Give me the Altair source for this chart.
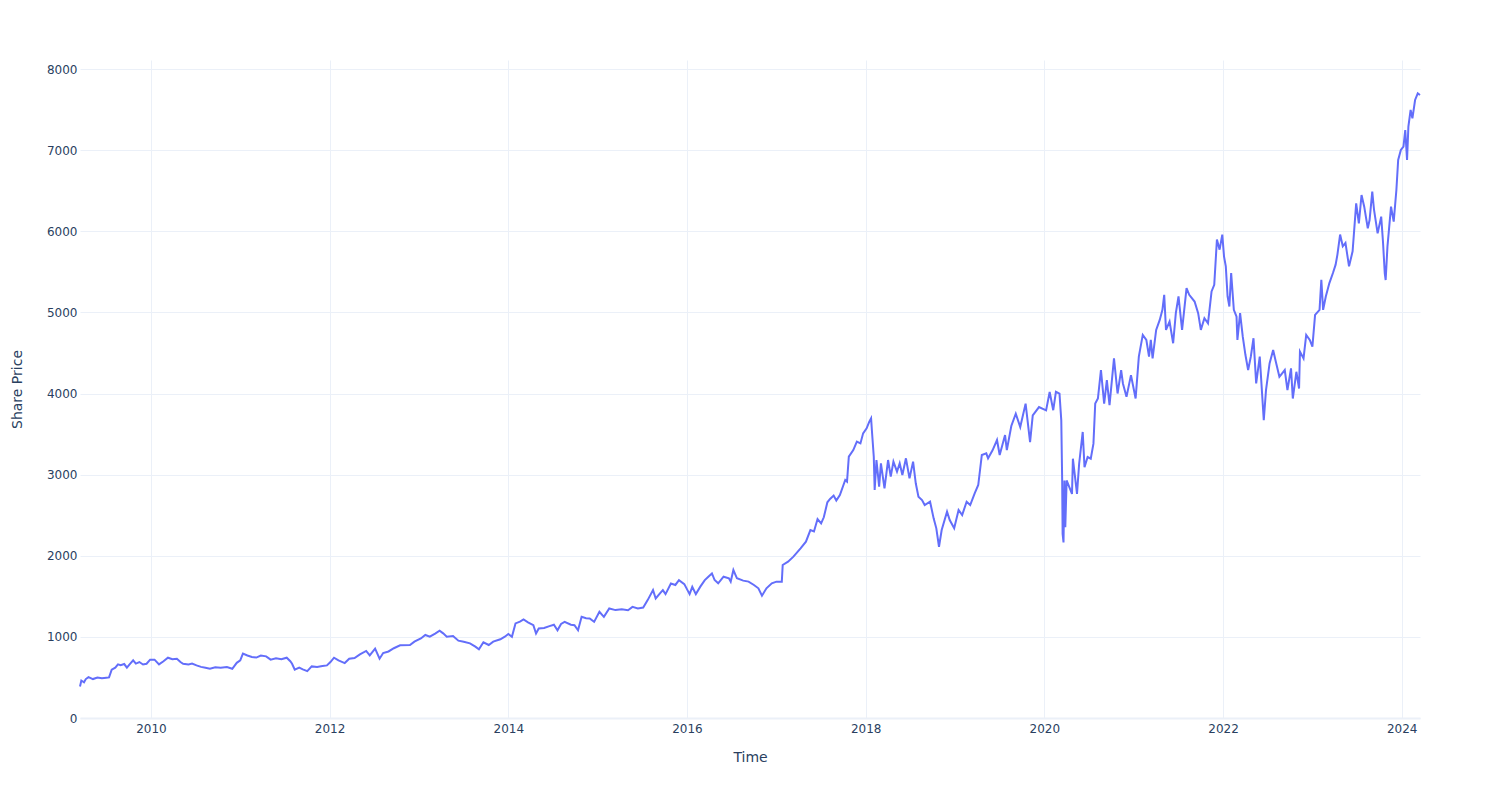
import altair as alt
import pandas as pd

# Decimal-year positions and share prices, by period
years_2009_2012 = [
    2009.205, 2009.22, 2009.25, 2009.27, 2009.30, 2009.35, 2009.40, 2009.45, 2009.50, 2009.53,
    2009.56, 2009.60, 2009.63, 2009.66, 2009.70, 2009.73, 2009.76, 2009.80, 2009.83, 2009.87,
    2009.91, 2009.95, 2009.99, 2010.04, 2010.09, 2010.14, 2010.19, 2010.24, 2010.29, 2010.33,
    2010.36, 2010.42, 2010.46, 2010.51, 2010.56, 2010.61, 2010.66, 2010.72, 2010.78, 2010.85,
    2010.91, 2010.96, 2011.00, 2011.03, 2011.08, 2011.13, 2011.18, 2011.23, 2011.29, 2011.34,
    2011.40, 2011.46, 2011.52, 2011.56, 2011.58, 2011.61, 2011.66, 2011.70, 2011.75, 2011.80,
    2011.86, 2011.92, 2011.97, 2012.01, 2012.05, 2012.10, 2012.17, 2012.22, 2012.28, 2012.34,
    2012.41, 2012.45, 2012.51, 2012.56, 2012.60, 2012.66, 2012.72, 2012.79, 2012.90, 2012.95,
]
prices_2009_2012 = [
    388, 462, 440, 480, 504, 480, 500, 490, 496, 500,
    595, 620, 661, 650, 665, 620, 660, 710, 670, 690,
    660, 669, 719, 719, 661, 700, 743, 725, 731, 690,
    669, 660, 670, 648, 630, 620, 607, 625, 620, 628,
    607, 680, 710, 793, 770, 752, 745, 770, 760, 719,
    735, 725, 743, 700, 669, 595, 620, 600, 578, 636,
    630, 640, 648, 690, 743, 710, 677, 731, 740, 785,
    826, 772, 855, 731, 801, 820, 860, 896, 900, 941,
]

years_2013_2016 = [
    2013.02, 2013.07, 2013.12, 2013.18, 2013.23, 2013.27, 2013.31, 2013.38, 2013.44, 2013.50,
    2013.57, 2013.63, 2013.67, 2013.72, 2013.78, 2013.83, 2013.91, 2013.96, 2014.00, 2014.04,
    2014.08, 2014.13, 2014.17, 2014.22, 2014.28, 2014.31, 2014.34, 2014.40, 2014.46, 2014.51,
    2014.55, 2014.59, 2014.63, 2014.70, 2014.74, 2014.78, 2014.82, 2014.87, 2014.91, 2014.96,
    2015.02, 2015.07, 2015.13, 2015.20, 2015.27, 2015.34, 2015.39, 2015.45, 2015.51, 2015.56,
    2015.62, 2015.65, 2015.70, 2015.73, 2015.76, 2015.82, 2015.87, 2015.91, 2015.97, 2016.03,
    2016.06, 2016.10,
]
prices_2013_2016 = [
    980, 1023, 1002, 1040, 1076, 1043, 1002, 1010, 953, 941,
    920, 879, 846, 933, 900, 941, 970, 1002, 1035, 1002,
    1166, 1187, 1214, 1180, 1144, 1041, 1103, 1110, 1132, 1150,
    1082, 1160, 1185, 1150, 1144, 1082, 1247, 1230, 1226, 1185,
    1309, 1247, 1350, 1330, 1340, 1329, 1370, 1350, 1362, 1453,
    1576, 1473, 1540, 1576, 1527, 1658, 1640, 1700, 1650, 1527,
    1617, 1527,
]

years_2016_2019 = [
    2016.15, 2016.20, 2016.24, 2016.28, 2016.31, 2016.35, 2016.41, 2016.47, 2016.49, 2016.52,
    2016.56, 2016.63, 2016.69, 2016.75, 2016.80, 2016.84, 2016.89, 2016.95, 2017.00, 2017.06,
    2017.07, 2017.13, 2017.19, 2017.27, 2017.33, 2017.38, 2017.42, 2017.46, 2017.50, 2017.53,
    2017.57, 2017.60, 2017.64, 2017.67, 2017.71, 2017.77, 2017.79, 2017.81, 2017.86, 2017.90,
    2017.94, 2017.97, 2018.01, 2018.04, 2018.06, 2018.07, 2018.09, 2018.10, 2018.12, 2018.15,
    2018.17, 2018.21, 2018.25, 2018.28, 2018.31, 2018.35, 2018.38, 2018.41, 2018.45, 2018.49,
    2018.53, 2018.56, 2018.59, 2018.63, 2018.66, 2018.72, 2018.76, 2018.79, 2018.82, 2018.85,
    2018.91, 2018.94, 2018.99, 2019.04, 2019.08, 2019.13, 2019.17, 2019.22, 2019.26,
]
prices_2016_2019 = [
    1619, 1700, 1742, 1783, 1701, 1660, 1742, 1722, 1681, 1824,
    1722, 1693, 1681, 1640, 1599, 1508, 1599, 1660, 1681, 1681,
    1886, 1927, 1989, 2090, 2173, 2317, 2300, 2453, 2400, 2474,
    2659, 2700, 2742, 2680, 2749, 2934, 2913, 3221, 3303, 3406,
    3385, 3509, 3570, 3652, 3693, 3529, 3221, 2810, 3180, 2851,
    3139, 2831, 3180, 2975, 3160, 3036, 3139, 2995, 3201, 2954,
    3160, 2893, 2728, 2687, 2625, 2666, 2461, 2338, 2111, 2317,
    2543, 2440, 2338, 2564, 2502, 2666, 2625, 2769, 2872,
]

years_2019_2021 = [
    2019.30, 2019.35, 2019.37, 2019.42, 2019.47, 2019.50, 2019.56, 2019.58, 2019.63, 2019.68,
    2019.73, 2019.79, 2019.84, 2019.87, 2019.94, 2020.02, 2020.06, 2020.10, 2020.13, 2020.17,
    2020.19, 2020.20, 2020.205, 2020.215, 2020.225, 2020.235, 2020.25, 2020.31, 2020.32, 2020.366,
    2020.39, 2020.43, 2020.45, 2020.485, 2020.52, 2020.55, 2020.57, 2020.60, 2020.634, 2020.67,
    2020.70, 2020.73, 2020.78, 2020.82, 2020.86, 2020.88, 2020.92, 2020.97, 2021.02, 2021.056,
    2021.10, 2021.14, 2021.17, 2021.19, 2021.21, 2021.25, 2021.29, 2021.32, 2021.34, 2021.36,
    2021.40, 2021.44, 2021.47, 2021.50, 2021.54, 2021.59, 2021.62, 2021.68, 2021.72, 2021.75,
    2021.79, 2021.83, 2021.87, 2021.90, 2021.93, 2021.96, 2021.99,
]
prices_2019_2021 = [
    3242, 3263, 3201, 3300, 3427, 3242, 3488, 3303, 3600, 3751,
    3586, 3875, 3401, 3730, 3833, 3792, 4019, 3794, 4021, 3998,
    3669, 2927, 2268, 2165, 2928, 2351, 2928, 2763, 3196, 2763,
    3134, 3526, 3093, 3217, 3196, 3382, 3876, 3938, 4289, 3876,
    4165, 3856, 4433, 4000, 4289, 4124, 3959, 4227, 3938, 4454,
    4722, 4660, 4454, 4660, 4433, 4784, 4907, 5031, 5217, 4784,
    4887, 4619, 4990, 5196, 4784, 5299, 5217, 5134, 4990, 4784,
    4928, 4866, 5258, 5340, 5897, 5773, 5959,
]

years_2022_2024 = [
    2022.01, 2022.03, 2022.05, 2022.07, 2022.09, 2022.12, 2022.15, 2022.16, 2022.19, 2022.22,
    2022.25, 2022.28, 2022.31, 2022.34, 2022.37, 2022.41, 2022.455, 2022.48, 2022.52, 2022.56,
    2022.59, 2022.63, 2022.69, 2022.72, 2022.76, 2022.78, 2022.82, 2022.85, 2022.86, 2022.90,
    2022.93, 2022.97, 2023.00, 2023.03, 2023.08, 2023.10, 2023.12, 2023.15, 2023.19, 2023.23,
    2023.26, 2023.28, 2023.31, 2023.34, 2023.37, 2023.41, 2023.45, 2023.49, 2023.52, 2023.55,
    2023.58, 2023.62, 2023.64, 2023.67, 2023.69, 2023.73, 2023.77, 2023.79, 2023.81, 2023.82,
    2023.84, 2023.86, 2023.88, 2023.91, 2023.94, 2023.96, 2023.99, 2024.02, 2024.04, 2024.06,
    2024.075, 2024.10, 2024.12, 2024.15, 2024.18, 2024.205,
]
prices_2022_2024 = [
    5691, 5567, 5196, 5072, 5485, 5031, 4949, 4660, 4990, 4701,
    4474, 4289, 4454, 4681, 4124, 4454, 3670, 4041, 4371, 4536,
    4392, 4206, 4289, 4041, 4310, 3938, 4268, 4062, 4516, 4433,
    4722, 4660, 4578, 4969, 5031, 5402, 5031, 5196, 5361, 5485,
    5588, 5712, 5959, 5815, 5856, 5567, 5753, 6344, 6097, 6447,
    6303, 6036, 6138, 6488, 6262, 5974, 6180, 5871, 5481, 5399,
    5810, 6056, 6303, 6118, 6508, 6878, 7002, 7043, 7248, 6878,
    7289, 7495, 7392, 7618, 7700, 7680,
]

x_tick_years = [2010, 2012, 2014, 2016, 2018, 2020, 2022, 2024]
y_ticks = [0, 1000, 2000, 3000, 4000, 5000, 6000, 7000, 8000]
y_max = 8111

years = years_2009_2012 + years_2013_2016 + years_2016_2019 + years_2019_2021 + years_2022_2024
prices = prices_2009_2012 + prices_2013_2016 + prices_2016_2019 + prices_2019_2021 + prices_2022_2024
assert len(years) == len(prices)


def to_date(y):
    base = int(y)
    return pd.Timestamp(base, 1, 1) + pd.Timedelta(days=(y - base) * 365.25)


df = pd.DataFrame({"Time": [to_date(y) for y in years], "Share Price": prices})

FONT = "DejaVu Sans"
TXT = "#2a3f5f"
GRID = "#EBF0F8"

line = alt.Chart(df).mark_line(color="#636EFA", strokeWidth=2).encode(
    x=alt.X(
        "Time:T",
        title="Time",
        scale=alt.Scale(nice=False),
        axis=alt.Axis(
            values=[alt.DateTime(year=y) for y in x_tick_years],
            format="%Y",
            grid=True,
            gridColor=GRID,
            gridWidth=1,
            domain=True,
            domainColor=GRID,
            domainWidth=2,
            ticks=False,
            labelPadding=5,
            labelFont=FONT,
            labelFontSize=12,
            labelColor=TXT,
            titleFont=FONT,
            titleFontSize=14,
            titleFontWeight="normal",
            titleColor=TXT,
            titlePadding=16,
        ),
    ),
    y=alt.Y(
        "Share Price:Q",
        title="Share Price",
        scale=alt.Scale(domain=[0, y_max], nice=False, zero=True),
        axis=alt.Axis(
            values=y_ticks,
            format="d",
            grid=True,
            gridColor=GRID,
            gridWidth=1,
            domain=False,
            ticks=False,
            labelPadding=3,
            labelFont=FONT,
            labelFontSize=12,
            labelColor=TXT,
            titleFont=FONT,
            titleFontSize=14,
            titleFontWeight="normal",
            titleColor=TXT,
            titlePadding=22,
        ),
    ),
)

chart = line.properties(
    width=1340,
    height=658,
    autosize=alt.AutoSizeParams(type="none"),
    padding={"left": 80, "top": 60, "right": 80, "bottom": 82},
    background="white",
).configure_view(strokeWidth=0)

chart.save("out.html", embed_options={"renderer": "svg", "actions": False})
